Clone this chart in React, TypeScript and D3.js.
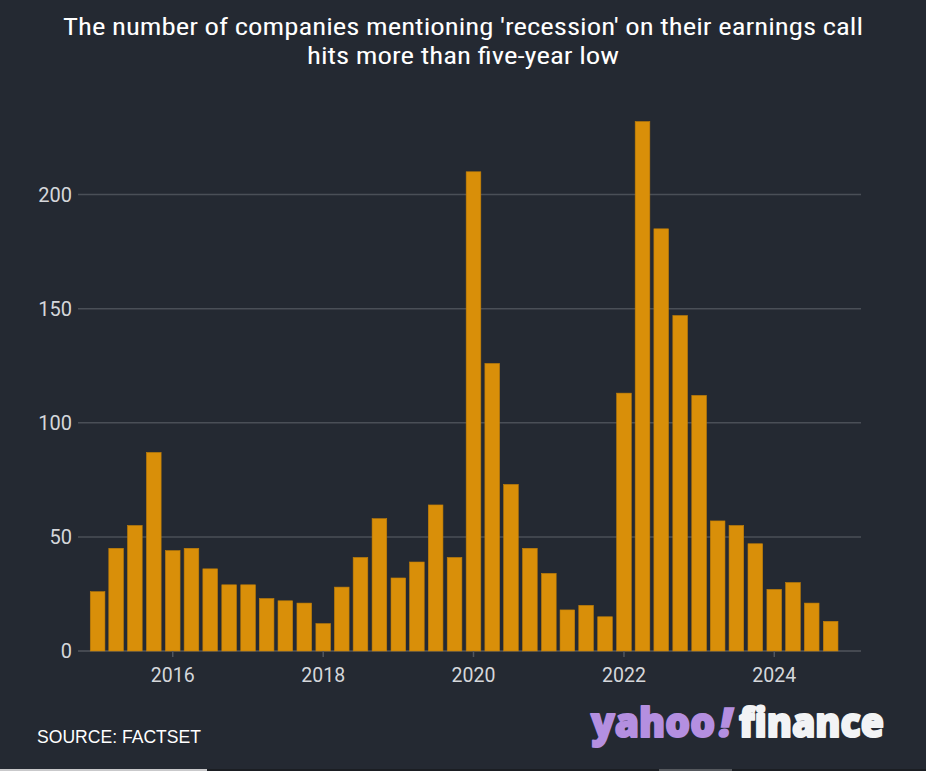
import React, { useEffect } from "react";
import * as d3 from "d3";

const quarters: string[] = [
  "2015-01-01","2015-04-01","2015-07-01","2015-10-01",
  "2016-01-01","2016-04-01","2016-07-01","2016-10-01",
  "2017-01-01","2017-04-01","2017-07-01","2017-10-01",
  "2018-01-01","2018-04-01","2018-07-01","2018-10-01",
  "2019-01-01","2019-04-01","2019-07-01","2019-10-01",
  "2020-01-01","2020-04-01","2020-07-01","2020-10-01",
  "2021-01-01","2021-04-01","2021-07-01","2021-10-01",
  "2022-01-01","2022-04-01","2022-07-01","2022-10-01",
  "2023-01-01","2023-04-01","2023-07-01","2023-10-01",
  "2024-01-01","2024-04-01","2024-07-01","2024-10-01",
];

const mentions: number[] = [
  26, 45, 55, 87,
  44, 45, 36, 29,
  29, 23, 22, 21,
  12, 28, 41, 58,
  32, 39, 64, 41,
  210, 126, 73, 45,
  34, 18, 20, 15,
  113, 232, 185, 147,
  112, 57, 55, 47,
  27, 30, 21, 13,
];

const yTicks: number[] = [0, 50, 100, 150, 200];
const xTickYears: string[] = ["2016", "2018", "2020", "2022", "2024"];

const titleLines: string[] = [
  "The number of companies mentioning 'recession' on their earnings call",
  "hits more than five-year low",
];

const W = 926;
const H = 771;
const BG = "#242932";
const BAR = "#d98f09";
const GRID = "#4a4f57";
const TICK_TXT = "#d5d7db";
const PURPLE = "#b48fe0";

export default function App() {
  useEffect(() => {
    document.body.style.margin = "0";
    document.body.style.background = BG;
  }, []);

  const parse = d3.timeParse("%Y-%m-%d");
  const dates = quarters.map((q) => parse(q) as Date);

  const x = d3
    .scaleTime()
    .domain([new Date(2015, 0, 1), new Date(2025, 0, 1)])
    .range([97.6, 849.6]);
  const y = d3.scaleLinear().domain([0, 200]).range([651, 194.6]);

  const plotLeft = 78;
  const plotRight = 861;
  const step = (x(new Date(2016, 0, 1)) - x(new Date(2015, 0, 1))) / 4;
  const bw = step * 0.78;

  const tickFont = "Roboto, 'Liberation Sans', sans-serif";
  const logoFont = "'Open Sans', Lato, sans-serif";

  return (
    <div style={{ position: "absolute", left: 0, top: 0, width: W, height: H }}>
      <svg width={W} height={H} style={{ display: "block" }}>
        <rect x={0} y={0} width={W} height={H} fill={BG} />

        {/* title */}
        {titleLines.map((t, i) => (
          <text
            key={i}
            x={W / 2}
            y={35 + i * 28.5}
            textAnchor="middle"
            fill="#ffffff"
            fontSize={24}
            fontFamily="'Liberation Sans Narrow', 'Roboto Condensed', 'DejaVu Sans Condensed', Roboto, sans-serif"
            textLength={i === 0 ? 800 : 312}
            lengthAdjust="spacingAndGlyphs"
          >
            {t}
          </text>
        ))}

        {/* gridlines */}
        {yTicks.map((t) => (
          <g key={t}>
            <line
              x1={plotLeft}
              x2={plotRight}
              y1={y(t)}
              y2={y(t)}
              stroke={t === 0 ? "#50555d" : GRID}
              strokeWidth={1.5}
            />
            <text
              x={72}
              y={y(t)}
              dy="0.35em"
              textAnchor="end"
              fill={TICK_TXT}
              fontSize={20}
              fontFamily={tickFont}
            >
              {t}
            </text>
          </g>
        ))}

        {/* bars */}
        {mentions.map((v, i) => (
          <rect
            key={i}
            x={x(dates[i]) - bw / 2}
            y={y(v)}
            width={bw}
            height={y(0) - y(v)}
            fill={BAR}
            stroke="#c07e08"
            strokeWidth={0.6}
          />
        ))}

        {/* x ticks */}
        {xTickYears.map((yr) => {
          const xp = x(parse(`${yr}-01-01`) as Date);
          return (
            <g key={yr}>
              <line x1={xp} x2={xp} y1={651} y2={657} stroke="#50555d" strokeWidth={1.5} />
              <text
                x={xp}
                y={682}
                textAnchor="middle"
                fill={TICK_TXT}
                fontSize={19.5}
                fontFamily={tickFont}
              >
                {yr}
              </text>
            </g>
          );
        })}

        {/* source */}
        <text
          x={37}
          y={743}
          fill="#ffffff"
          fontSize={18}
          fontFamily="'Liberation Sans', Arial, sans-serif"
          textLength={164}
          lengthAdjust="spacingAndGlyphs"
        >
          SOURCE: FACTSET
        </text>

        {/* logo */}
        <text
          x={591}
          y={737}
          fontSize={40}
          fontWeight={800}
          fontFamily={logoFont}
          fill={PURPLE}
          stroke={PURPLE}
          strokeWidth={2}
          strokeLinejoin="round"
          textLength={124}
          lengthAdjust="spacingAndGlyphs"
        >
          yahoo
        </text>
        <text
          x={719}
          y={737}
          fontSize={40}
          fontWeight={800}
          fontStyle="italic"
          fontFamily={logoFont}
          fill={PURPLE}
          stroke={PURPLE}
          strokeWidth={1.5}
          textLength={13}
          lengthAdjust="spacingAndGlyphs"
        >
          !
        </text>
        <text
          x={739}
          y={737}
          fontSize={40}
          fontWeight={800}
          fontFamily={logoFont}
          fill="#f2f3f5"
          stroke="#f2f3f5"
          strokeWidth={2}
          strokeLinejoin="round"
          textLength={145}
          lengthAdjust="spacingAndGlyphs"
        >
          finance
        </text>

        {/* bottom strip artifact */}
        <rect x={0} y={769} width={W} height={2} fill="#1b1e23" />
        <rect x={0} y={769} width={207} height={2} fill="#c9c9cb" />
        <rect x={659} y={769} width={73} height={2} fill="#55585d" />
      </svg>
    </div>
  );
}
